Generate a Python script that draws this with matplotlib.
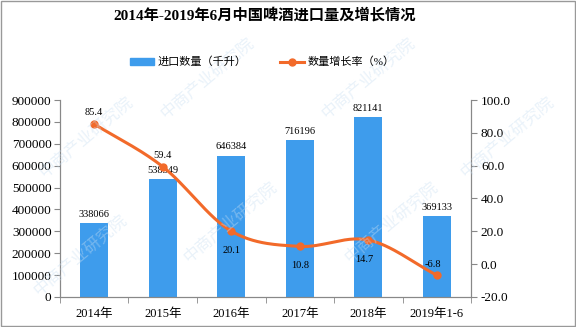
import numpy as np
import matplotlib
matplotlib.use("Agg")
import matplotlib.pyplot as plt
from matplotlib.lines import Line2D
from matplotlib.patches import Patch

plt.rcParams['font.family'] = ['Liberation Serif', 'Noto Sans CJK SC']
plt.rcParams['axes.unicode_minus'] = False

# data
categories = ["2014年", "2015年", "2016年", "2017年", "2018年", "2019年1-6"]
volume = [338066, 538349, 646384, 716196, 821141, 369133]
growth = [85.4, 59.4, 20.1, 10.8, 14.7, -6.8]

bar_color = "#3E9CEC"
line_color = "#F26A2A"

fig = plt.figure(figsize=(5.76, 3.27), dpi=100)
ax = fig.add_axes([0.104, 0.092, 0.714, 0.602])
ax2 = ax.twinx()

x = np.arange(len(categories))
ax.bar(x, volume, width=0.41, color=bar_color, zorder=2)
ax.set_xlim(-0.5, len(categories) - 0.5)
ax.set_ylim(0, 900000)
ax.set_yticks(np.arange(0, 900001, 100000))
ax.set_xticks(x)
ax.set_xticklabels(categories, fontsize=9)
ax.set_xticks(np.arange(-0.5, len(categories), 1), minor=True)
ax.tick_params(axis='x', which='major', length=0, pad=8)
ax.tick_params(axis='x', which='minor', length=4, color="#888888")
ax.tick_params(axis='y', labelsize=9.5, length=4, color="#888888", pad=2)

for xi, v in zip(x, volume):
    ax.annotate(str(v), (xi, v), xytext=(0, 3), textcoords="offset points",
                ha="center", va="bottom", fontsize=7.5)

# smooth line through points (Catmull-Rom)
def smooth(xs, ys, n=30):
    px = np.concatenate([[2 * xs[0] - xs[1]], xs, [2 * xs[-1] - xs[-2]]])
    py = np.concatenate([[2 * ys[0] - ys[1]], ys, [2 * ys[-1] - ys[-2]]])
    outx, outy = [], []
    for i in range(1, len(px) - 2):
        t = np.linspace(0, 1, n)
        for p, out in ((px, outx), (py, outy)):
            p0, p1, p2, p3 = p[i - 1], p[i], p[i + 1], p[i + 2]
            out.extend(0.5 * ((2 * p1) + (-p0 + p2) * t + (2 * p0 - 5 * p1 + 4 * p2 - p3) * t ** 2
                              + (-p0 + 3 * p1 - 3 * p2 + p3) * t ** 3))
    return outx, outy

sx, sy = smooth(x.astype(float), np.array(growth))
ax2.plot(sx, sy, color=line_color, lw=2.2, zorder=3)
ax2.plot(x, growth, 'o', color=line_color, ms=5, zorder=4)
ax2.set_ylim(-20, 100)
ax2.set_yticks(np.arange(-20, 101, 20))
ax2.set_yticklabels([f"{t:.1f}" for t in np.arange(-20, 101, 20)])
ax2.tick_params(axis='y', labelsize=9.5, length=4, color="#888888", pad=3)

offsets = [(0, 8), (0, 8), (0, -14), (0, -14), (-3, -14), (-3, 8)]
for xi, g, off in zip(x, growth, offsets):
    ax2.annotate(f"{g:.1f}", (xi, g), xytext=off, textcoords="offset points",
                 ha="center", va="center", fontsize=7.5)

for a in (ax, ax2):
    a.spines["top"].set_visible(False)
    for s in ("left", "right", "bottom"):
        a.spines[s].set_color("#888888")

# watermarks
for wx, wy in [(0.15, 0.58), (0.36, 0.76), (0.40, 0.32), (0.64, 0.76), (0.68, 0.32), (0.88, 0.58), (0.14, 0.22)]:
    fig.text(wx, wy, "中商产业研究院", fontsize=12, color="#C9DFF2", alpha=0.4,
             rotation=40, ha="center", va="center", family="Noto Sans CJK SC", zorder=0)

fig.suptitle("2014年-2019年6月中国啤酒进口量及增长情况", x=0.46, y=0.975,
             fontsize=11, fontweight="bold")

handles = [Patch(color=bar_color), Line2D([], [], color=line_color, lw=2.2, marker='o', ms=5)]
fig.legend(handles, ["进口数量（千升）", "数量增长率（%）"], loc="center",
           bbox_to_anchor=(0.455, 0.81), ncol=2, frameon=False, fontsize=8,
           handlelength=2.2, columnspacing=3, handletextpad=0.3)

fig.patches.append(plt.Rectangle((0.001, 0.002), 0.997, 0.995, transform=fig.transFigure,
                                 fill=False, edgecolor="#999999", lw=1))

fig.savefig("out.png", dpi=100)
